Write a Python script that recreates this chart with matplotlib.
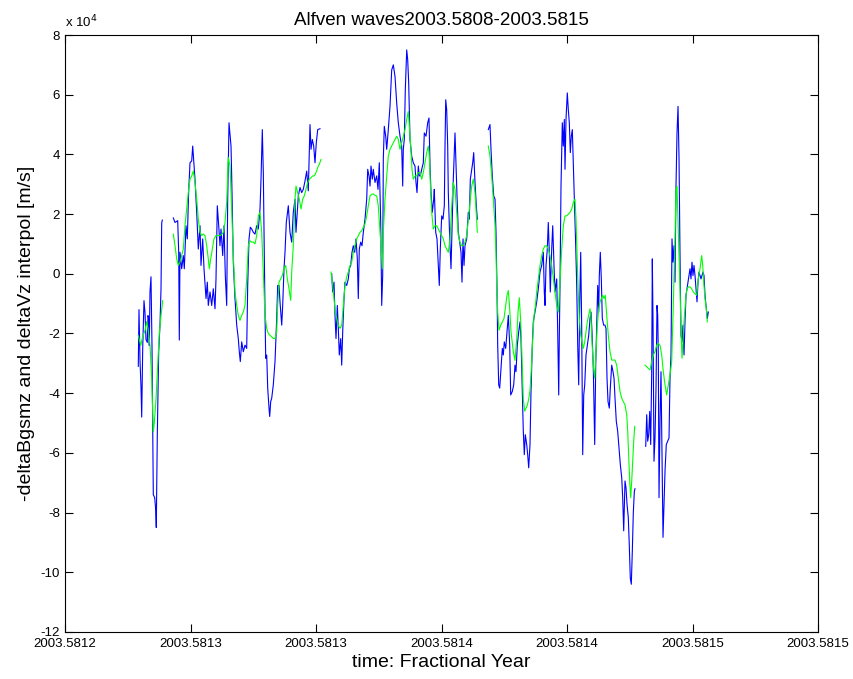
import numpy as np
import matplotlib
matplotlib.use("Agg")
import matplotlib.pyplot as plt
from matplotlib.ticker import FuncFormatter

plt.rcParams['font.family'] = ['Liberation Sans', 'DejaVu Sans']

# Time axis: samples are given in micro-years after T0 (fractional year)
T0 = 2003.5812
UYR = 1e-6
# Velocities are given in units of 1e4 m/s
VSCALE = 1e4

X_TICKS_UYR = [0, 50, 100, 150, 200, 250, 300]
X_TICK_LABELS = ['2003.5812', '2003.5813', '2003.5813', '2003.5814',
                 '2003.5814', '2003.5815', '2003.5815']
Y_TICKS = [-12, -10, -8, -6, -4, -2, 0, 2, 4, 6, 8]

# -deltaBgsmz (blue), one list per continuous stretch of data
BZ_SEG1 = [(29.20, -3.1), (29.48, -1.2), (29.88, -2.9), (30.28, -3.8), (30.56, -4.8),
           (30.96, -2.5), (31.47, -0.9), (31.87, -1.3), (32.27, -2.2), (32.79, -2.3),
           (33.07, -1.4), (33.35, -1.5), (33.59, -2.4), (33.86, -0.6), (34.26, -0.1),
           (34.66, -2.4), (34.94, -4.9), (35.18, -7.4), (35.74, -7.5), (36.14, -7.9),
           (36.37, -8.5), (36.77, -5.4), (37.33, -2.6), (37.85, -1.7), (38.25, -0.5),
           (38.53, 1.7), (38.77, 1.8)]

BZ_SEG2 = [(43.15, 1.87), (43.83, 1.72), (44.90, 1.78), (45.30, 0.72), (45.54, -2.22),
           (45.82, 0.72), (46.49, 0.17), (47.13, 0.61), (47.53, 0.17), (48.21, 1.61),
           (48.72, 1.17), (49.28, 2.78), (49.80, 3.72), (50.48, 3.78), (50.88, 4.28),
           (51.79, 3.17), (52.47, 2.06), (53.11, 0.83), (53.79, 1.61), (54.18, 0.28),
           (54.86, 1.17), (55.38, 0.17), (56.18, -0.83), (56.69, -0.28), (57.09, -1.06),
           (57.77, -0.61), (58.45, -1.06), (59.08, -0.50), (59.76, -1.17), (60.16, -0.17),
           (60.68, 2.28), (61.24, 1.61), (61.75, 0.94), (62.15, 1.50), (62.83, 0.61),
           (63.35, 1.61), (63.87, -0.06), (64.42, -1.06), (64.82, 2.50), (65.34, 5.06),
           (66.14, 4.28), (66.41, 3.28), (67.05, 0.39), (67.73, -0.83), (68.41, -1.72),
           (69.04, -2.17), (69.44, -2.61), (69.84, -2.94), (70.40, -2.28), (71.04, -2.61),
           (71.71, -2.39), (72.39, -2.50), (72.79, -0.39), (73.31, 1.17), (73.83, 1.56),
           (74.38, 1.50), (75.02, 1.39), (75.70, 1.33), (76.37, 1.61), (77.01, 1.50),
           (77.69, 2.17), (78.09, 3.17), (78.61, 4.83), (79.01, 3.39), (79.40, 0.50),
           (79.68, -1.28), (79.96, -2.83), (80.36, -2.72), (80.76, -3.83), (81.28, -4.50),
           (81.55, -4.78), (81.95, -4.28), (82.35, -4.17), (82.99, -3.72), (83.67, -2.94),
           (84.34, -1.50), (84.74, -0.39), (85.26, -0.39), (85.66, -0.94), (86.34, -1.72),
           (86.73, -1.06), (87.25, 0.17), (87.65, 0.72), (88.17, 1.72), (88.97, 2.28),
           (89.64, 1.39), (90.32, 1.06), (90.96, 2.06), (91.63, 2.50), (92.03, 1.39),
           (92.55, 2.06), (92.95, 2.61), (93.63, 2.89), (94.30, 2.72), (94.94, 2.83),
           (95.62, 3.11), (96.30, 3.44), (96.93, 2.78), (97.61, 5.00), (98.01, 4.17),
           (98.53, 4.50), (99.08, 4.28), (99.60, 3.72), (100.12, 4.39), (100.68, 4.83),
           (101.59, 4.86)]

BZ_SEG3 = [(106.26, 0.00), (106.65, -0.61), (107.17, -0.28), (107.57, -1.39), (107.97, -2.17),
           (108.49, -1.06), (108.89, -1.83), (109.28, -2.72), (109.84, -2.17), (110.24, -3.06),
           (110.64, -1.94), (111.16, -0.83), (111.55, -0.28), (112.23, -0.39), (112.87, -0.17),
           (113.27, 0.17), (113.83, 0.28), (114.34, 0.72), (114.86, 0.94), (115.42, 0.72),
           (115.94, 1.17), (116.46, 0.50), (116.85, -0.83), (117.25, 0.83), (117.81, 1.06),
           (118.33, 0.94), (118.85, 1.39), (119.52, 1.83), (120.20, 2.50), (120.60, 3.50),
           (121.12, 3.28), (121.52, 2.94), (121.91, 3.61), (122.43, 3.17), (122.83, 3.50),
           (123.51, 3.06), (124.18, 3.28), (124.70, 2.83), (125.22, 3.72), (125.78, 1.72),
           (126.18, -1.06), (126.57, -0.06), (126.81, 3.83), (127.21, 4.94), (127.77, 4.61),
           (128.17, 4.17), (128.81, 4.83), (129.48, 5.61), (130.16, 6.83), (130.80, 7.00),
           (131.48, 6.61), (132.15, 5.72), (132.79, 5.06), (133.47, 4.61), (134.14, 4.28),
           (134.54, 2.94), (134.78, 4.17), (135.18, 4.50), (135.58, 6.17), (136.14, 7.50),
           (136.53, 7.17), (136.93, 6.39), (137.45, 4.50), (138.13, 3.94), (138.77, 3.72),
           (139.44, 3.61), (139.84, 3.06), (140.24, 2.72), (140.76, 3.61), (141.16, 3.28),
           (141.56, 3.28), (142.11, 3.50), (142.75, 3.72), (143.15, 4.72), (143.83, 4.61),
           (144.50, 5.06), (145.02, 5.22), (145.42, 3.61), (145.82, 2.72), (146.34, 2.06),
           (146.89, 2.50), (147.13, 2.83), (147.69, 1.39), (148.21, 1.17), (148.73, 0.28),
           (149.12, -0.39), (149.52, 0.83), (150.08, 1.94), (150.60, 1.83), (151.12, 2.28),
           (151.40, 4.28), (151.68, 5.83), (152.07, 5.50), (152.47, 4.28), (152.71, 2.72),
           (153.27, 1.17), (153.79, 0.17), (154.31, 1.83), (154.70, 3.17), (155.38, 4.72),
           (155.78, 3.61), (156.18, 2.61), (156.70, 1.39), (157.25, 1.06), (157.77, 0.72),
           (158.17, -0.28), (158.57, 1.17), (158.97, 0.28), (159.36, 0.94), (160.04, 1.17),
           (160.68, 2.06), (161.08, 1.83), (161.48, 3.17), (162.03, 3.50), (162.43, 3.72),
           (162.83, 4.06), (163.35, 3.06), (163.87, 2.28), (164.26, 1.83)]

BZ_SEG4 = [(168.65, 4.83), (169.32, 5.00), (169.72, 4.17), (170.24, 3.28), (170.80, 2.61),
           (171.32, 2.50), (171.71, 1.39), (172.11, -0.50), (172.39, -2.39), (172.79, -3.72),
           (173.19, -3.83), (173.71, -3.17), (174.23, -2.50), (174.62, -2.72), (175.02, -2.28),
           (175.58, -2.50), (176.10, -1.94), (176.62, -1.39), (177.17, -2.39), (177.57, -4.06),
           (178.21, -3.94), (178.77, -3.72), (179.28, -3.06), (179.68, -3.28), (180.20, -2.39),
           (180.76, -1.94), (181.28, -1.61), (181.67, -2.17), (182.07, -3.50), (182.59, -5.28),
           (182.99, -6.06), (183.39, -5.39), (183.95, -5.72), (184.34, -6.06), (184.74, -6.50),
           (185.26, -5.72), (185.66, -3.94), (186.18, -2.39), (186.58, -1.61), (187.25, -1.28),
           (187.93, -0.94), (188.57, -0.50), (189.24, 0.06), (189.92, 0.28), (190.56, 0.72),
           (190.96, -0.61), (191.24, -1.06), (191.64, 0.28), (192.15, 0.83), (192.55, 1.72),
           (192.95, 0.72), (193.35, -0.61), (193.91, 0.83), (194.31, 1.61), (194.82, 0.28),
           (195.22, -0.61), (195.90, -0.17), (196.30, -1.94), (196.70, -4.06), (196.93, -2.17),
           (197.21, -0.39), (197.61, 2.94), (198.13, 5.06), (198.53, 4.28), (198.93, 5.17),
           (199.21, 3.50), (199.60, 5.17), (200.12, 6.06), (200.52, 5.50), (200.92, 5.06),
           (201.32, 4.06), (201.72, 4.61), (202.12, 4.83), (202.51, 3.72), (202.91, 2.50),
           (203.47, 0.94), (203.87, -0.39), (204.27, -2.39), (204.66, -3.72), (205.06, -1.06),
           (205.46, 0.72), (205.86, -1.83), (206.26, -6.06), (206.66, -4.06), (207.06, -3.72),
           (207.57, -2.72), (208.09, -2.39), (208.65, -2.06), (209.17, -1.50), (209.56, -1.28),
           (209.96, -1.94), (210.48, -3.17), (211.04, -5.72), (211.44, -3.06), (211.83, -1.72),
           (212.23, -0.39), (212.63, -1.28), (212.87, -0.06), (213.27, 0.72), (213.67, -0.17),
           (214.07, -1.50), (214.62, -1.72), (215.14, -1.72), (215.54, -1.83), (215.94, -3.50),
           (216.34, -4.28), (216.86, -4.50), (217.25, -3.83), (217.81, -3.06), (218.33, -3.28),
           (218.73, -3.50), (219.13, -4.17), (219.64, -4.94), (220.20, -5.28), (220.72, -5.83),
           (221.24, -6.39), (221.80, -6.83), (222.19, -7.50), (222.59, -8.61), (223.11, -6.94),
           (223.51, -7.17), (223.91, -7.72), (224.42, -8.17), (224.82, -9.10), (225.22, -10.20),
           (225.62, -10.40), (226.02, -9.30), (226.42, -8.00), (226.82, -7.30), (227.09, -7.20)]

BZ_SEG5 = [(231.36, -5.78), (231.76, -4.72), (232.15, -5.61), (232.55, -5.39), (232.95, -4.61),
           (233.35, -5.72), (233.75, -3.28), (233.99, 0.50), (234.27, -1.61), (234.66, -6.28),
           (235.06, -5.50), (235.46, -3.83), (235.86, -1.06), (236.14, -1.39), (236.38, -2.72),
           (236.66, -7.50), (237.05, -4.94), (237.45, -3.28), (237.85, -6.06), (238.25, -8.83),
           (238.65, -7.72), (239.05, -6.61), (239.56, -5.72), (240.12, -5.61), (240.64, -5.50),
           (241.04, -3.50), (241.44, -2.72), (241.83, 1.17), (242.23, 0.39), (242.63, 0.94),
           (243.03, -0.28), (243.43, 2.94), (243.83, 4.72), (244.23, 5.61), (244.62, 3.94),
           (244.90, 1.50), (245.14, -0.28), (245.42, -2.06), (245.82, -2.28), (246.22, -1.72),
           (246.62, -2.72), (247.01, -1.61), (247.41, -0.72), (247.81, -0.50), (248.21, -0.28),
           (248.61, -0.06), (249.01, 0.17), (249.40, -0.17), (249.80, 0.39), (250.20, -0.06),
           (250.60, 0.28), (251.00, -0.06), (251.40, -0.50), (251.80, -0.94), (252.19, -0.28),
           (252.59, 0.06), (252.99, -0.06), (253.39, -0.17), (253.79, -0.06), (254.19, 0.06),
           (254.58, -0.06), (254.98, -0.72), (255.50, -1.17), (255.90, -1.50), (256.30, -1.28)]

# deltaVz interpolated (green), one list per continuous stretch of data
VZ_SEG1 = [(29.20, -2.07), (30.16, -2.40), (30.96, -2.10), (31.87, -1.90), (32.55, -1.60),
           (33.19, -1.90), (33.86, -2.40), (34.54, -3.50), (35.18, -5.30), (35.58, -5.00),
           (36.26, -4.20), (36.93, -3.10), (37.57, -2.00), (38.25, -1.40), (38.92, -0.90)]

VZ_SEG2 = [(43.15, 1.33), (43.83, 0.94), (44.50, 0.50), (45.14, 0.28), (45.82, 0.39),
           (46.49, 0.61), (47.13, 0.83), (47.81, 1.61), (48.49, 2.17), (49.12, 2.72),
           (49.80, 3.17), (50.48, 3.28), (51.12, 3.44), (51.79, 3.06), (52.47, 2.50),
           (53.11, 1.83), (53.79, 1.39), (54.46, 1.28), (55.10, 1.33), (55.78, 1.28),
           (56.45, 0.94), (57.09, 0.50), (57.49, 0.17), (58.05, 0.50), (58.69, 0.83),
           (59.36, 1.17), (60.16, 1.28), (61.08, 1.28), (61.75, 1.28), (62.55, 1.33),
           (63.07, 1.39), (63.75, 1.72), (64.42, 2.40), (65.06, 3.90), (65.74, 3.61),
           (66.41, 2.17), (67.05, 0.61), (67.73, -0.61), (68.41, -1.06), (69.04, -1.39),
           (69.72, -1.56), (70.40, -1.39), (71.04, -1.28), (71.71, -1.06), (72.39, -0.17),
           (73.03, 0.94), (73.71, 1.11), (74.38, 1.06), (75.02, 1.06), (75.70, 1.00),
           (76.37, 1.28), (77.01, 1.94), (77.69, 2.06), (78.37, 1.39), (79.01, 0.06),
           (79.68, -1.39), (80.36, -1.83), (81.00, -2.00), (81.67, -2.06), (82.35, -2.11),
           (82.99, -2.17), (83.67, -2.17), (84.34, -1.94), (84.74, -1.06), (85.26, -0.28),
           (85.94, -0.17), (86.57, -0.06), (87.25, 0.17), (87.93, 0.28), (88.57, -0.17),
           (89.24, -0.50), (89.92, -0.89), (90.32, 0.06), (90.96, 0.94), (91.63, 2.50),
           (92.03, 2.94), (92.71, 2.72), (93.35, 2.50), (94.03, 2.17), (94.70, 2.50),
           (95.34, 2.61), (96.02, 2.83), (96.69, 3.06), (97.33, 3.17), (98.01, 3.22),
           (98.69, 3.28), (99.33, 3.28), (100.00, 3.39), (100.68, 3.56), (101.32, 3.67),
           (101.99, 3.83)]

VZ_SEG3 = [(105.98, 0.06), (106.65, -0.39), (107.17, -0.83), (107.69, -1.28), (108.25, -1.50),
           (108.89, -1.72), (109.56, -1.83), (110.24, -1.72), (110.88, -1.06), (111.55, -0.39),
           (112.23, -0.11), (112.87, 0.06), (113.55, 0.28), (114.22, 0.39), (114.86, 0.72),
           (115.54, 0.94), (116.21, 1.17), (116.85, 1.28), (117.53, 1.39), (118.21, 1.44),
           (118.85, 1.56), (119.52, 1.67), (120.20, 1.94), (120.84, 2.28), (121.52, 2.61),
           (122.19, 2.67), (122.83, 2.67), (123.51, 2.63), (124.18, 2.61), (124.82, 2.28),
           (125.50, 1.39), (125.90, 0.94), (126.42, 0.17), (126.81, 1.39), (127.49, 2.50),
           (128.17, 3.28), (128.81, 3.94), (129.48, 4.17), (130.16, 4.28), (130.80, 4.39),
           (131.48, 4.50), (132.15, 4.61), (132.79, 4.50), (133.47, 4.17), (134.14, 4.39),
           (134.78, 4.61), (135.46, 4.83), (136.14, 5.17), (136.77, 5.44), (137.17, 4.94),
           (137.73, 4.28), (138.25, 3.50), (138.77, 3.17), (139.44, 3.28), (140.12, 3.28),
           (140.76, 3.39), (141.44, 3.39), (142.11, 3.17), (142.75, 3.39), (143.43, 3.72),
           (144.10, 4.06), (144.74, 4.28), (145.14, 3.94), (145.54, 3.06), (146.10, 2.06),
           (146.74, 1.50), (147.41, 1.61), (148.09, 1.61), (148.73, 1.50), (149.40, 1.39),
           (150.08, 1.28), (150.72, 1.17), (151.40, 0.94), (152.07, 0.83), (152.71, 0.72),
           (153.39, 1.17), (154.07, 2.28), (154.70, 3.06), (155.38, 2.83), (156.06, 2.06),
           (156.70, 1.28), (157.37, 1.06), (158.05, 0.94), (158.69, 0.94), (159.36, 1.06),
           (160.04, 1.28), (160.68, 1.83), (161.36, 2.39), (162.03, 2.94), (162.67, 3.17),
           (163.35, 2.72), (163.99, 1.83), (164.26, 1.39)]

VZ_SEG4 = [(168.65, 4.28), (169.32, 3.94), (170.00, 3.28), (170.64, 2.50), (171.32, 1.61),
           (171.71, 0.72), (172.00, -0.39), (172.39, -1.28), (172.91, -1.89), (173.59, -1.72),
           (174.23, -1.61), (174.90, -1.50), (175.58, -1.06), (176.10, -0.72), (176.62, -0.56),
           (177.17, -1.17), (177.69, -1.94), (178.61, -2.61), (179.28, -2.90), (179.96, -2.20),
           (180.48, -1.30), (181.00, -0.80), (181.56, -1.60), (182.07, -2.80), (182.59, -4.20),
           (183.15, -4.60), (183.67, -4.50), (184.19, -4.40), (184.74, -4.20), (185.26, -3.90),
           (185.78, -3.20), (186.34, -2.20), (186.86, -1.40), (187.37, -1.10), (187.93, -0.60),
           (188.57, -0.17), (189.24, 0.28), (189.92, 0.61), (190.56, 0.83), (191.24, 0.94),
           (191.91, 0.94), (192.55, 0.83), (193.23, 0.61), (193.91, 0.28), (194.55, -0.17),
           (195.22, -0.61), (195.90, -1.06), (196.54, -1.28), (197.21, -0.28), (197.89, 0.83),
           (198.53, 1.61), (199.21, 1.94), (199.88, 1.94), (200.52, 2.00), (201.20, 2.06),
           (201.88, 2.17), (202.51, 2.39), (203.19, 2.50), (203.59, 1.83), (203.98, 0.72),
           (204.38, -0.39), (204.90, -1.50), (205.46, -2.06), (205.98, -2.28), (206.50, -2.50),
           (207.06, -2.28), (207.57, -1.94), (208.09, -1.61), (208.65, -1.39), (209.17, -1.17),
           (209.56, -1.50), (209.96, -2.28), (210.48, -3.06), (211.04, -3.50), (211.56, -2.61),
           (212.08, -1.72), (212.63, -1.17), (213.15, -0.94), (213.67, -0.83), (214.23, -0.72),
           (214.74, -0.83), (215.26, -0.72), (215.82, -1.39), (216.46, -2.06), (217.13, -2.61),
           (217.81, -2.89), (218.45, -2.89), (219.13, -2.89), (219.80, -3.06), (220.44, -3.50),
           (221.12, -3.94), (221.80, -4.17), (222.43, -4.28), (223.11, -4.39), (223.79, -4.72),
           (224.19, -5.28), (224.58, -6.06), (224.98, -6.94), (225.38, -7.50), (225.78, -6.94),
           (226.18, -6.28), (226.58, -5.61), (226.98, -5.11)]

VZ_SEG5 = [(231.08, -3.06), (231.76, -3.11), (232.39, -3.17), (233.07, -3.22), (233.75, -2.94),
           (234.39, -2.72), (235.06, -2.61), (235.74, -2.39), (236.38, -2.33), (237.05, -2.39),
           (237.73, -2.72), (238.37, -3.28), (239.05, -3.72), (239.72, -4.06), (240.36, -3.72),
           (241.04, -3.39), (241.71, -2.94), (242.35, -1.06), (243.03, 1.17), (243.43, 2.83),
           (243.83, 2.94), (244.23, 1.72), (244.62, 0.61), (245.02, -0.50), (245.42, -1.83),
           (245.82, -2.83), (246.22, -2.28), (246.62, -1.61), (247.01, -1.17), (247.41, -0.72),
           (247.81, -0.50), (248.33, -0.44), (249.01, -0.44), (249.68, -0.50), (250.32, -0.61),
           (251.00, -0.67), (251.68, -0.72), (252.31, -0.17), (252.99, 0.17), (253.67, 0.61),
           (254.07, 0.28), (254.47, -0.28), (254.98, -0.83), (255.50, -1.17), (255.90, -1.61)]

BZ_SEGMENTS = [BZ_SEG1, BZ_SEG2, BZ_SEG3, BZ_SEG4, BZ_SEG5]
VZ_SEGMENTS = [VZ_SEG1, VZ_SEG2, VZ_SEG3, VZ_SEG4, VZ_SEG5]


def join_segments(segments):
    """Concatenate stretches with NaN gaps; return (fractional year, m/s)."""
    t_all, v_all = [], []
    for seg in segments:
        arr = np.asarray(seg, dtype=float)
        t_all.extend(arr[:, 0])
        v_all.extend(arr[:, 1])
        t_all.append(np.nan)
        v_all.append(np.nan)
    t = T0 + np.asarray(t_all) * UYR
    v = np.asarray(v_all) * VSCALE
    return t, v


bz_t, bz_v = join_segments(BZ_SEGMENTS)
vz_t, vz_v = join_segments(VZ_SEGMENTS)

W, H = 854, 679
AX_L, AX_R, AX_T, AX_B = 65, 818, 35, 632

fig = plt.figure(figsize=(W / 100, H / 100), dpi=100)
ax = fig.add_axes([AX_L / W, 1 - AX_B / H, (AX_R - AX_L) / W, (AX_B - AX_T) / H])

ax.plot(bz_t, bz_v, color=(0, 0, 1), lw=0.8)
ax.plot(vz_t, vz_v, color=(0, 1, 0), lw=0.8)

ax.set_xlim(T0, T0 + 300 * UYR)
ax.set_ylim(-12 * VSCALE, 8 * VSCALE)

ax.set_xticks([T0 + u * UYR for u in X_TICKS_UYR], X_TICK_LABELS)
ax.set_yticks([y * VSCALE for y in Y_TICKS])
ax.yaxis.set_major_formatter(FuncFormatter(lambda v, pos: f"{v / VSCALE:g}"))

ax.tick_params(direction='in', top=True, right=True, length=5.5, width=0.8,
               labelsize=9.5)
ax.tick_params(axis='x', pad=4.5)
ax.tick_params(axis='y', pad=3.5)
for sp in ax.spines.values():
    sp.set_linewidth(0.8)

ax.text(0.0, 1.008, r'x 10$^{4}$', transform=ax.transAxes, fontsize=9.5,
        ha='left', va='bottom')

ax.set_title('Alfven waves2003.5808-2003.5815', fontsize=13.5, pad=7)
ax.set_xlabel('time: Fractional Year', fontsize=14, labelpad=3)
ax.set_ylabel('-deltaBgsmz and deltaVz interpol [m/s]', fontsize=14, labelpad=4)

fig.savefig('out.png', dpi=100)
